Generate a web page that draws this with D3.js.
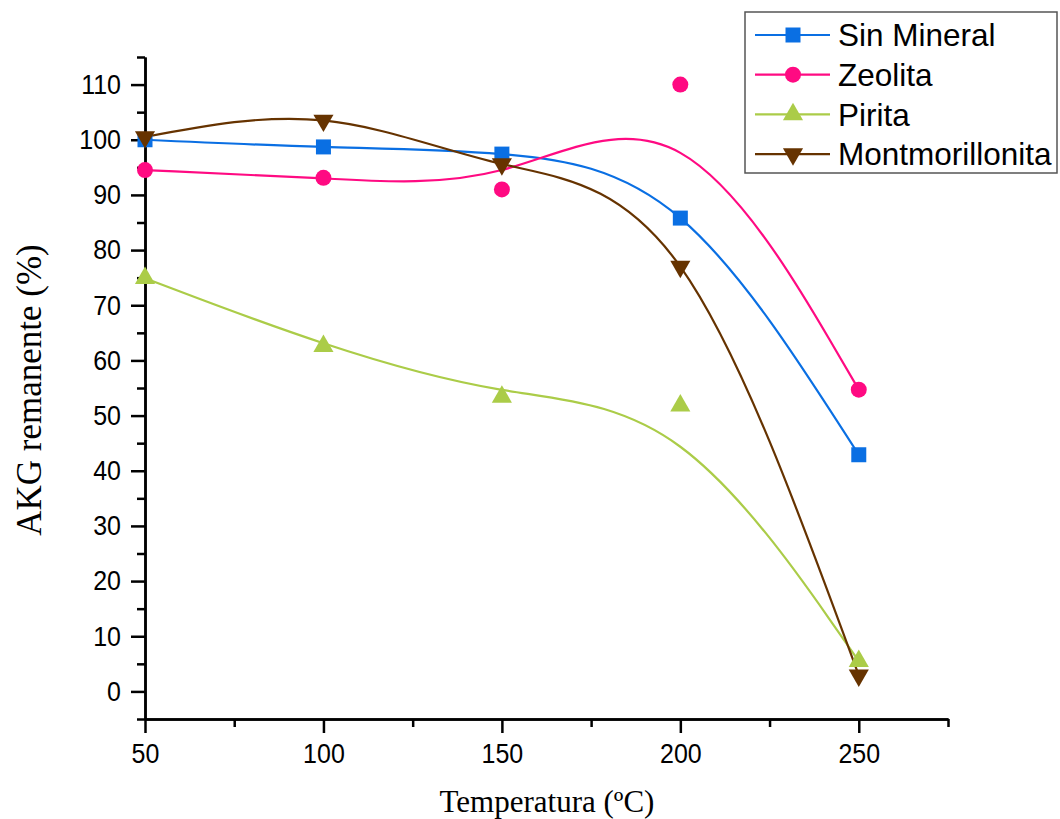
<!DOCTYPE html>
<html>
<head>
<meta charset="utf-8">
<script src="https://cdn.jsdelivr.net/npm/d3@7"></script>
<style>
  body { margin: 0; background: #fff; }
  .axis path, .axis line { stroke: #000; stroke-width: 2.5px; }
  .axis text { font-family: 'Liberation Sans', Arial, sans-serif; font-size: 25px; fill: #000; }
</style>
</head>
<body>
<svg id="chart" width="1060" height="819"></svg>
<script>
var temps = [50, 100, 150, 200, 250];
var seriesNames = ['Sin Mineral', 'Zeolita', 'Pirita', 'Montmorillonita'];
var sinMineral = [100, 98.7, 97.4, 85.8, 42.9];
var zeolita = [94.5, 93.1, 91.0, 110, 54.7];
var pirita = [74.9, 62.6, 53.4, 51.8, 5.5];
var montmorillonita = [100.5, 103.5, 95.6, 77, 2.9];
var xTicks = [50, 100, 150, 200, 250];
var yTicks = [0, 10, 20, 30, 40, 50, 60, 70, 80, 90, 100, 110];

var colors = ['#0a6fe3', '#ff0a82', '#abcc48', '#663300'];
var symbols = [d3.symbolSquare, d3.symbolCircle, d3.symbolTriangle, d3.symbolTriangle];
var symSize = [225, 200, 175, 175];
var rotate = [0, 0, 0, 180];
var curves = [d3.curveNatural, d3.curveBasis, d3.curveBasis, d3.curveNatural];
var allSeries = [sinMineral, zeolita, pirita, montmorillonita];

var svg = d3.select('#chart');
svg.append('rect').attr('width', 1060).attr('height', 819).attr('fill', '#fff');

var x = d3.scaleLinear().domain([50, 275]).range([145, 948]);
var y = d3.scaleLinear().domain([-5, 115]).range([719, 57]);

// minor ticks
svg.append('g').attr('class', 'axis')
  .attr('transform', 'translate(0,719)')
  .call(d3.axisBottom(x).tickValues([75, 125, 175, 225, 275]).tickSize(8).tickSizeOuter(0).tickFormat(''));
svg.append('g').attr('class', 'axis')
  .attr('transform', 'translate(145,0)')
  .call(d3.axisLeft(y).tickValues(d3.range(-5, 116, 10)).tickSize(8).tickSizeOuter(0).tickFormat(''));

// major ticks
var xAxis = svg.append('g').attr('class', 'axis')
  .attr('transform', 'translate(0,719)')
  .call(d3.axisBottom(x).tickValues(xTicks).tickSize(14).tickSizeOuter(0).tickPadding(8));
var yAxis = svg.append('g').attr('class', 'axis')
  .attr('transform', 'translate(145,0)')
  .call(d3.axisLeft(y).tickValues(yTicks).tickSize(14).tickSizeOuter(0).tickPadding(10));

// the original digits are a bit taller than wide
xAxis.selectAll('text').attr('transform', 'scale(1,1.1)');
yAxis.selectAll('text').attr('transform', 'scale(1,1.1)');

// axis titles
svg.append('text')
  .attr('x', 547).attr('y', 812)
  .attr('text-anchor', 'middle')
  .attr('font-family', "'Liberation Serif', 'Times New Roman', serif")
  .attr('font-size', 31)
  .text('Temperatura (ºC)');

svg.append('text')
  .attr('transform', 'translate(41,390) rotate(-90)')
  .attr('text-anchor', 'middle')
  .attr('font-family', "'Liberation Serif', 'Times New Roman', serif")
  .attr('font-size', 35)
  .text('AKG remanente (%)');

// lines and markers
allSeries.forEach(function (vals, s) {
  var pts = temps.map(function (t, i) { return [t, vals[i]]; });
  var line = d3.line()
    .x(function (d) { return x(d[0]); })
    .y(function (d) { return y(d[1]); })
    .curve(curves[s]);
  svg.append('path')
    .datum(pts)
    .attr('d', line)
    .attr('fill', 'none')
    .attr('stroke', colors[s])
    .attr('stroke-width', 2.2);
});

allSeries.forEach(function (vals, s) {
  svg.append('g').selectAll('path')
    .data(temps.map(function (t, i) { return [t, vals[i]]; }))
    .enter().append('path')
    .attr('d', d3.symbol().type(symbols[s]).size(symSize[s]))
    .attr('transform', function (d) {
      return 'translate(' + x(d[0]) + ',' + y(d[1]) + ') rotate(' + rotate[s] + ')';
    })
    .attr('fill', colors[s]);
});

// legend
var legend = svg.append('g');
legend.append('rect')
  .attr('x', 745).attr('y', 12).attr('width', 312).attr('height', 161)
  .attr('fill', '#fff').attr('stroke', '#555').attr('stroke-width', 1.5);

seriesNames.forEach(function (name, s) {
  var ly = 35 + s * 39.7;
  legend.append('line')
    .attr('x1', 755).attr('x2', 830).attr('y1', ly).attr('y2', ly)
    .attr('stroke', colors[s]).attr('stroke-width', 2.2);
  legend.append('path')
    .attr('d', d3.symbol().type(symbols[s]).size(symSize[s]))
    .attr('transform', 'translate(793,' + ly + ') rotate(' + rotate[s] + ')')
    .attr('fill', colors[s]);
  legend.append('text')
    .attr('x', 838).attr('y', ly)
    .attr('dy', '0.36em')
    .attr('font-family', "'Liberation Sans', Arial, sans-serif")
    .attr('font-size', 31.5)
    .text(name);
});
</script>
</body>
</html>
